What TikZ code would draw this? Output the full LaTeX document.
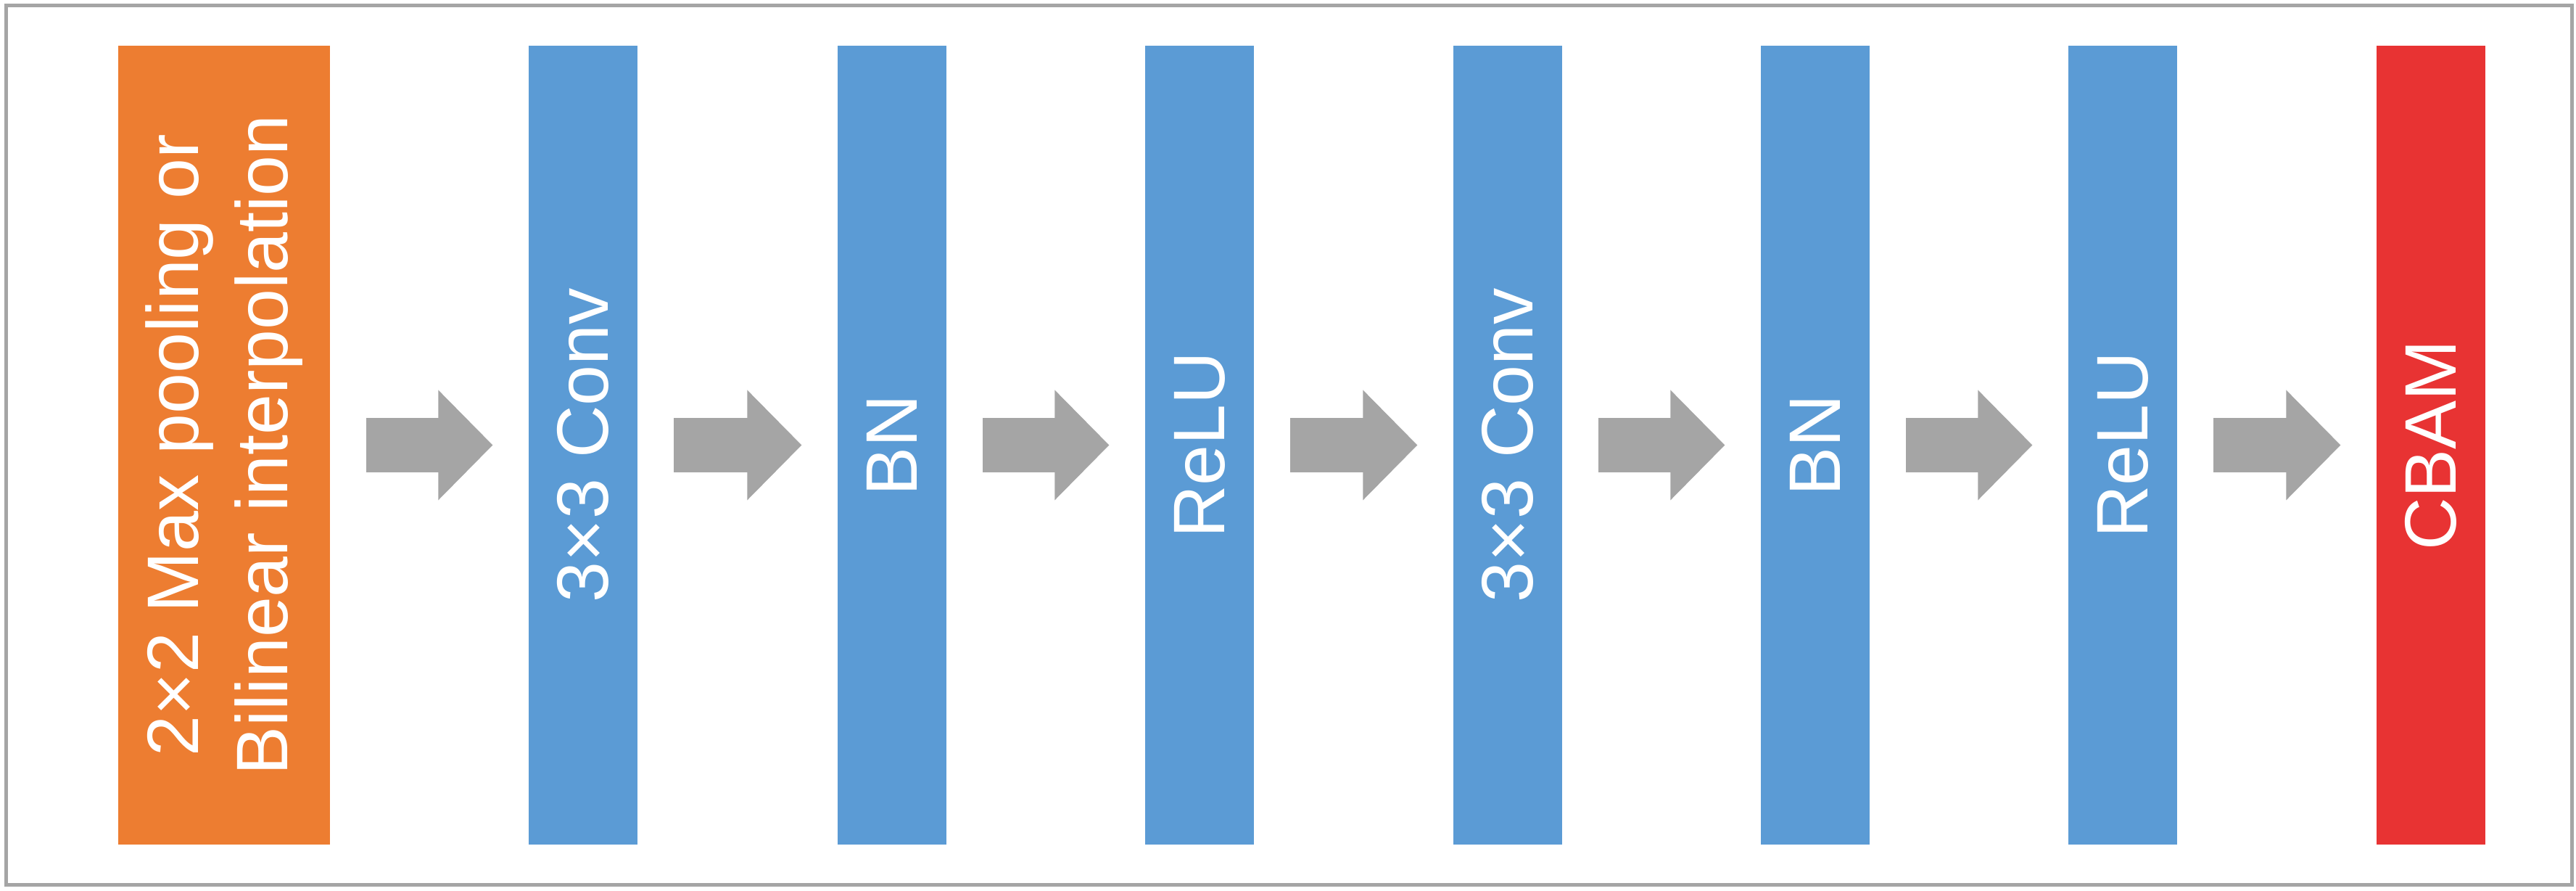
\documentclass[tikz,border=0pt]{standalone}
\usepackage{fontspec}
\setmainfont{Liberation Sans}
\usepackage{xcolor}
\usepackage{tikz}
\usetikzlibrary{arrows.meta,positioning}

\definecolor{poolorange}{RGB}{237,125,49}
\definecolor{layerblue}{RGB}{91,155,213}
\definecolor{cbamred}{RGB}{232,51,51}
\definecolor{flowgray}{RGB}{165,165,165}

\begin{document}
\begin{tikzpicture}[
  box/.style={rectangle, rotate=90, minimum width=11.01cm, minimum height=1.5cm, inner sep=0pt, text=white, font=\fontsize{28.6}{35}\selectfont, align=center},
  arrow/.style={-{Triangle[length=0.75cm, width=1.52cm, line width=0pt]}, line width=0.75cm, line cap=rect, draw=flowgray, fill=flowgray, shorten <=0.865cm, shorten >=0.49cm}
]
\useasboundingbox (0,0) rectangle (35.52,12.28);

% Frame
\draw[flowgray, line width=0.05cm] (0.08,0.08) rectangle (35.46,12.20);

% Stage 1: Resampling
\node[box, fill=poolorange, minimum height=2.92cm] (pool) at (3.09,6.145) {2×2 Max pooling or\\Bilinear interpolation};

% Stage 2: First conv block
\node[box, fill=layerblue] (conv1) at (8.04,6.145) {3×3 Conv};
\node[box, fill=layerblue] (bn1) at (12.30,6.145) {BN};
\node[box, fill=layerblue] (relu1) at (16.54,6.145) {ReLU};

% Stage 3: Second conv block
\node[box, fill=layerblue] (conv2) at (20.79,6.145) {3×3 Conv};
\node[box, fill=layerblue] (bn2) at (25.03,6.145) {BN};
\node[box, fill=layerblue] (relu2) at (29.27,6.145) {ReLU};

% Stage 4: Attention
\node[box, fill=cbamred] (cbam) at (33.52,6.145) {CBAM};

% Main arrows
\draw[arrow] (pool) -- (conv1);
\draw[arrow] (conv1) -- (bn1);
\draw[arrow] (bn1) -- (relu1);
\draw[arrow] (relu1) -- (conv2);
\draw[arrow] (conv2) -- (bn2);
\draw[arrow] (bn2) -- (relu2);
\draw[arrow] (relu2) -- (cbam);

\end{tikzpicture}
\end{document}
